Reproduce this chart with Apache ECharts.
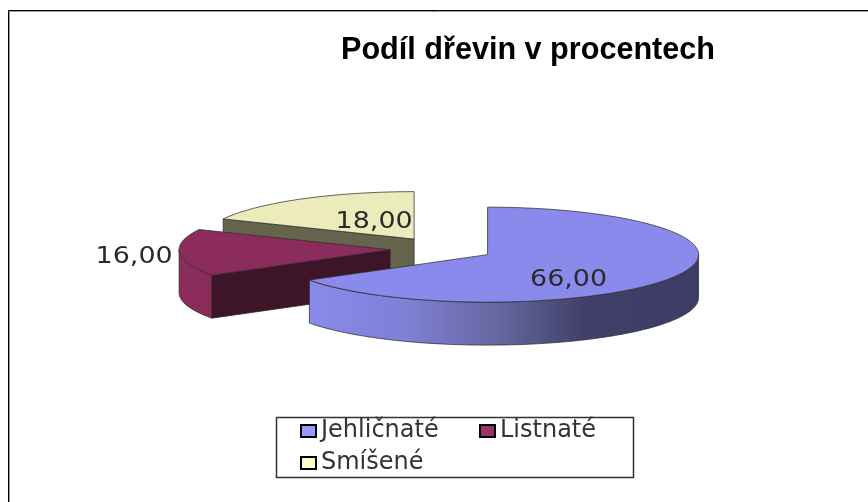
<!DOCTYPE html>
<html><head><meta charset="utf-8">
<style>html,body{margin:0;padding:0;background:#fff}#c{width:868px;height:502px}</style>
<script src="https://cdn.jsdelivr.net/npm/echarts@6/dist/echarts.min.js"></script>
</head><body><div id="c"></div>
<script>
const titleText = 'Podíl dřevin v procentech';
const categories = ['Jehličnaté', 'Listnaté', 'Smíšené'];
const values = [66, 16, 18];
const legendColors = ['#9999FF', '#993366', '#FFFFCC'];
const topColors = ['#8A8AEC', '#8C2C5C', '#EBEBBC'];
const cutColors = ['#3C3C66', '#3E1428', '#65654E'];
const sideStops = [
  [[0, '#8A8AEC'], [0.25, '#7F7FD6'], [0.49, '#66669F'], [0.71, '#3F3F68'], [1, '#3C3C64']],
  [[0, '#8C2C5C'], [1, '#8A2C5A']],
  [[0, '#65654E'], [1, '#65654E']]
];
// pie projection layout
const cx = 442, cy = 249, R = 211, tilt = 0.225, depth = 43, explode = 52;
// data label placement relative to each slice's exploded centre
const labelShift = [[81, 25], [-256, 7], [-40, -17]];
const total = values.reduce((a, b) => a + b, 0);
const startOf = i => values.slice(0, i).reduce((a, b) => a + b, 0) / total * Math.PI * 2;
const P = (c, r, a, dz) => [c[0] + r * Math.sin(a), c[1] - r * tilt * Math.cos(a) + (dz || 0)];
const stroke = 'rgba(45,45,45,0.75)';

function arcPts(c, a0, a1, dz) {
  const n = Math.max(2, Math.ceil((a1 - a0) / 0.02)), pts = [];
  for (let k = 0; k <= n; k++) pts.push(P(c, R, a0 + (a1 - a0) * k / n, dz));
  return pts;
}
function renderSlice(i) {
  return function (params, api) {
    const v = api.value(0);
    const a0 = startOf(i), a1 = a0 + v / total * Math.PI * 2, mid = (a0 + a1) / 2;
    const c = P([cx, cy], explode, mid, 0);
    const children = [];
    const style = (fill) => ({ fill, stroke, lineWidth: 1 });
    // outer wall, front half only
    const f0 = Math.max(a0, Math.PI / 2), f1 = Math.min(a1, Math.PI * 1.5);
    if (f1 > f0) {
      const top = arcPts(c, f0, f1, 0), bot = arcPts(c, f0, f1, depth).reverse();
      const xs = top.map(p => p[0]);
      const x0 = Math.min(...xs), x1 = Math.max(...xs);
      children.push({
        type: 'polygon', shape: { points: top.concat(bot) },
        style: Object.assign(style(null), {
          fill: new echarts.graphic.LinearGradient(x0, 0, x1, 0,
            sideStops[i].map(s => ({ offset: s[0], color: s[1] })), true)
        })
      });
    }
    // cut wall at the start edge, visible only when it faces the viewer
    if (Math.cos(a0 - Math.PI / 2) < -1e-6) {
      const o = P(c, R, a0, 0), o2 = P(c, R, a0, depth);
      children.push({
        type: 'polygon',
        shape: { points: [c, o, o2, [c[0], c[1] + depth]] },
        style: style(cutColors[i])
      });
    }
    // top surface
    children.push({
      type: 'polygon',
      shape: { points: [c].concat(arcPts(c, a0, a1, 0)) },
      style: style(topColors[i])
    });
    // value label
    children.push({
      type: 'text', z2: 50,
      x: c[0] + labelShift[i][0], y: c[1] + labelShift[i][1],
      scaleX: 1.17,
      style: {
        text: v.toFixed(2).replace('.', ','),
        font: '23px "DejaVu Sans"', fill: '#2a2a2a', align: 'center', verticalAlign: 'middle'
      }
    });
    return { type: 'group', children };
  };
}
const order = [2, 1, 0];
const legendBase = {
  orient: 'vertical', padding: 0, itemGap: 4, itemWidth: 15, itemHeight: 12,
  selectedMode: false, icon: 'rect',
  itemStyle: { borderColor: '#000', borderWidth: 2 },
  textStyle: { fontFamily: '"DejaVu Sans"', fontSize: 24, color: '#333', lineHeight: 28 }
};
const chart = echarts.init(document.getElementById('c'), null, { renderer: 'canvas' });
chart.setOption({
  animation: false,
  backgroundColor: '#fff',
  title: {
    text: titleText, left: 341, top: 35, padding: 0,
    textStyle: { fontFamily: '"Liberation Sans"', fontWeight: 'bold', fontSize: 30.6, color: '#000' }
  },
  legend: [
    Object.assign({}, legendBase, { left: 300, top: 417, data: [categories[0], categories[2]] }),
    Object.assign({}, legendBase, { left: 479, top: 417, data: [categories[1]] })
  ],
  graphic: [
    { type: 'polyline', silent: true, shape: { points: [[9.5, 502], [9.5, 11.5], [868, 11.5]] },
      style: { stroke: '#999', lineWidth: 1, fill: null } },
    { type: 'polyline', silent: true, shape: { points: [[8.5, 502], [8.5, 10.5], [868, 10.5]] },
      style: { stroke: '#000', lineWidth: 1, fill: null } },
    { type: 'rect', silent: true, shape: { x: 276.5, y: 417.5, width: 357, height: 60 },
      style: { stroke: '#333', lineWidth: 1.5, fill: '#fff' } }
  ],
  series: order.map(i => ({
    type: 'custom', name: categories[i], coordinateSystem: 'none',
    z: 2 + order.indexOf(i),
    itemStyle: { color: legendColors[i] },
    data: [[values[i]]],
    renderItem: renderSlice(i)
  }))
});
</script></body></html>
